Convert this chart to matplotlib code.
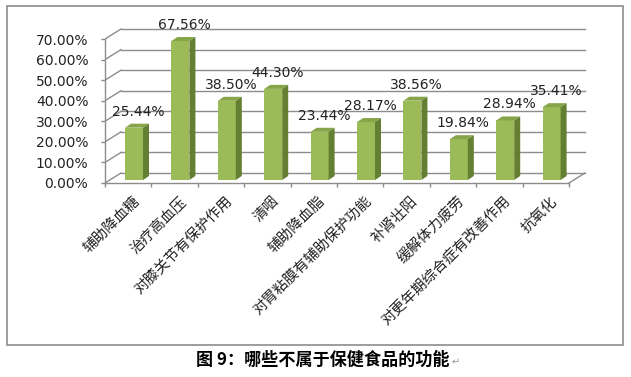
import matplotlib
matplotlib.use("Agg")
import matplotlib.pyplot as plt
from matplotlib.patches import Polygon, Rectangle

plt.rcParams['font.family'] = ['DejaVu Sans']

# -------------------------
# Data
# -------------------------
categories = ["辅助降血糖", "治疗高血压", "对膝关节有保护作用", "清咽", "辅助降血脂",
              "对胃粘膜有辅助保护功能", "补肾壮阳", "缓解体力疲劳",
              "对更年期综合症有改善作用", "抗氧化"]
values = [25.44, 67.56, 38.50, 44.30, 23.44, 28.17, 38.56, 19.84, 28.94, 35.41]
yticks = [0, 10, 20, 30, 40, 50, 60, 70]
caption = "图 9：哪些不属于保健食品的功能"

# -------------------------
# Geometry (pixels -> data units)
# -------------------------
W, H = 631, 377
PX_CAT = 46.4      # pixels per category
PX_PCT = 2.057     # pixels per percent
L, R, B, T = 105, 600, 183, 20

wall_dx, wall_dy = 16 / PX_CAT, 10 / PX_PCT
bar_dx, bar_dy = 6 / PX_CAT, 4 / PX_PCT
bar_left, bar_w = 20 / PX_CAT, 18 / PX_CAT
base = 3 / PX_PCT

front_c = "#9BBB59"
top_c = "#86A549"
side_c = "#647F31"
grid_c = "#8C8C8C"

fig = plt.figure(figsize=(W / 100, H / 100), dpi=100)
ax = fig.add_axes([L / W, 1 - B / H, (R - L) / W, (B - T) / H])
ax.set_xlim(0, (R - L) / PX_CAT)
ax.set_ylim(0, (B - T) / PX_PCT)
ax.patch.set_visible(False)

# back wall gridlines + side wall diagonals
n = len(categories)
for v in yticks:
    ax.plot([0, wall_dx], [v, v + wall_dy], color=grid_c, lw=1, zorder=1)
    ax.plot([wall_dx, n + wall_dx], [v + wall_dy, v + wall_dy], color=grid_c, lw=1, zorder=1)
ax.plot([n, n + wall_dx], [0, wall_dy], color=grid_c, lw=1, zorder=1)

# bars
xs = [i + bar_left for i in range(n)]
ax.bar(xs, values, width=bar_w, bottom=base, align="edge", color=front_c,
       edgecolor="none", zorder=3)
for x, v in zip(xs, values):
    top = base + v
    ax.add_patch(Polygon([(x, top), (x + bar_w, top), (x + bar_w + bar_dx, top + bar_dy),
                          (x + bar_dx, top + bar_dy)], closed=True, fc=top_c, ec="none", zorder=3))
    ax.add_patch(Polygon([(x + bar_w, base), (x + bar_w + bar_dx, base + bar_dy),
                          (x + bar_w + bar_dx, top + bar_dy), (x + bar_w, top)],
                         closed=True, fc=side_c, ec="none", zorder=3))
    ax.annotate(f"{v:.2f}%", (x + bar_w / 2, top), xytext=(3, 11.5), textcoords="offset points",
                ha="center", va="center", fontsize=10, color="#222222", zorder=5)

# axes lines
for s in ["top", "right"]:
    ax.spines[s].set_visible(False)
ax.spines["left"].set_bounds(0, 70)
ax.spines["bottom"].set_bounds(0, n)
for s in ["left", "bottom"]:
    ax.spines[s].set_color(grid_c)
    ax.spines[s].set_linewidth(1)
ax.set_yticks(yticks)
ax.set_yticklabels([f"{v:.2f}%" for v in yticks], fontsize=10, color="#222222")
ax.set_xticks(range(n + 1))
ax.set_xticklabels([])
ax.tick_params(axis="both", direction="out", length=3, color=grid_c, width=1)
ax.tick_params(axis="y", pad=9)

# category labels
for i, name in enumerate(categories):
    ax.annotate(name, (i + 0.5, 0), xytext=(3, -8), textcoords="offset points",
                rotation=45, rotation_mode="anchor", ha="right", va="top",
                fontsize=10.5, family=["Noto Sans CJK SC", "DejaVu Sans"], color="#222222",
                annotation_clip=False)

# outer frame
fig.patches.append(Rectangle((7 / W, 1 - 345 / H), 616 / W, 339 / H, transform=fig.transFigure,
                             fill=False, ec="#8C8C8C", lw=1.2))

# caption
fig.text(323 / W, 1 - 360 / H, caption, ha="center", va="center", fontsize=12.3,
         fontweight="bold", family=["Noto Sans CJK SC", "DejaVu Sans"])
fig.text(452 / W, 1 - 362 / H, "↵", ha="left", va="center", fontsize=7, color="#999999",
         family=["DejaVu Sans"])

fig.savefig("out.png", dpi=100)
